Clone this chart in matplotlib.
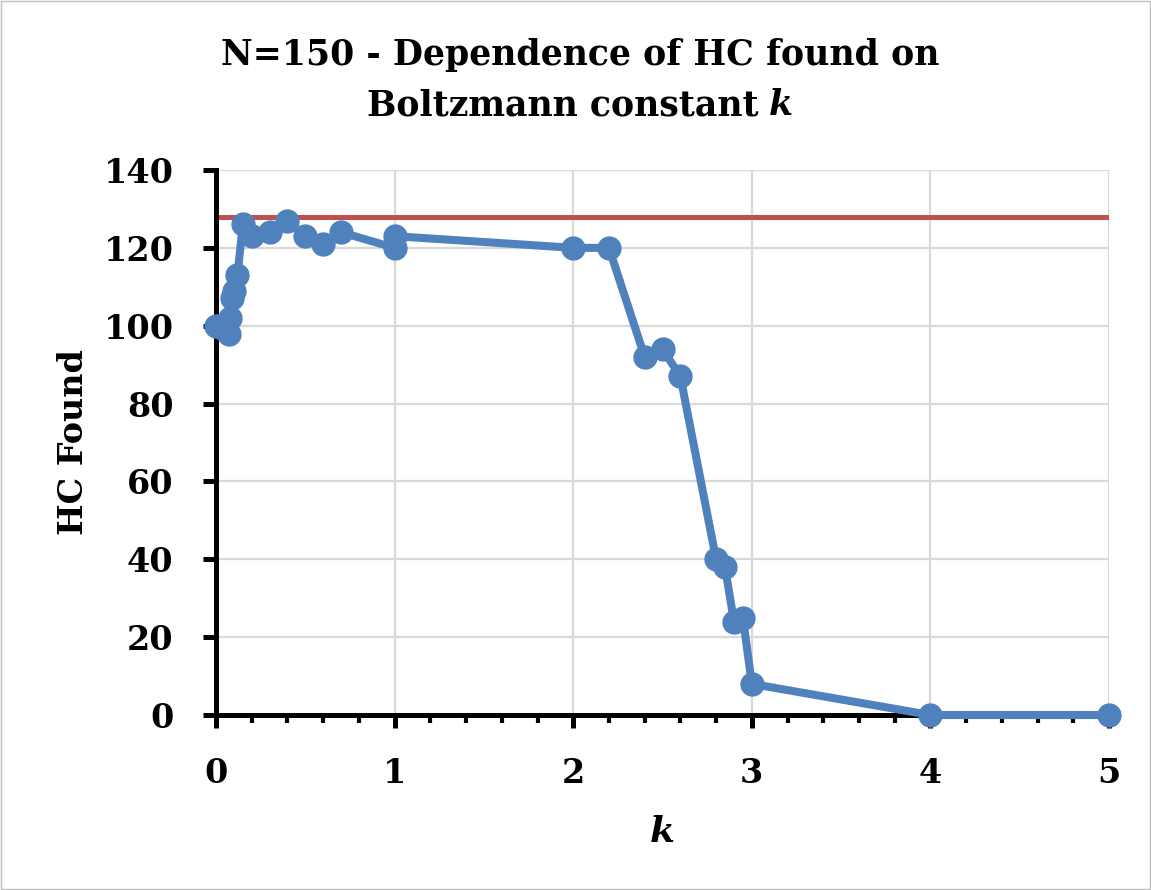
import matplotlib.pyplot as plt
from matplotlib.patches import Rectangle
from matplotlib.ticker import MultipleLocator

# values
k_values = [0, 0.01, 0.05, 0.07, 0.08, 0.09, 0.1, 0.12, 0.15, 0.2, 0.3, 0.4,
            0.5, 0.6, 0.7, 1.0, 1.0, 2.0, 2.2, 2.4, 2.5, 2.6, 2.8, 2.85,
            2.9, 2.95, 3.0, 4.0, 5.0]
hc_found = [100, 100, 99, 98, 102, 107, 109, 113, 126, 123, 124, 127,
            123, 121, 124, 120, 123, 120, 120, 92, 94, 87, 40, 38,
            24, 25, 8, 0, 0]
target_k = [0, 5]
target_hc = [128, 128]

blue = "#4F81BD"
red = "#C0504D"
grid_grey = "#D9D9D9"

plt.rcParams['font.family'] = ['DejaVu Serif']
plt.rcParams['font.weight'] = 'bold'

fig = plt.figure(figsize=(11.51, 8.9), dpi=100)
ax = fig.add_axes([0.1877, 0.1966, 0.9635 - 0.1877, 0.809 - 0.1966])

# chart area border
fig.patches.append(Rectangle((0.001, 0.001), 0.998, 0.998, transform=fig.transFigure,
                             fill=False, edgecolor="#BFBFBF", linewidth=1))

ax.plot(target_k, target_hc, color=red, linewidth=3.6, zorder=2,
        solid_capstyle='butt')
ax.plot(k_values, hc_found, color=blue, linewidth=5.8, marker='o',
        markersize=16.5, zorder=3, clip_on=False)

ax.set_xlim(0, 5)
ax.set_ylim(0, 140)
ax.xaxis.set_major_locator(MultipleLocator(1))
ax.xaxis.set_minor_locator(MultipleLocator(0.2))
ax.yaxis.set_major_locator(MultipleLocator(20))

ax.grid(True, which='major', color=grid_grey, linewidth=1.6, zorder=0)
ax.set_axisbelow(True)

for side in ['top', 'right']:
    ax.spines[side].set_visible(False)
for side in ['left', 'bottom']:
    ax.spines[side].set_linewidth(3.6)

ax.tick_params(axis='both', which='major', direction='out', length=9.5,
               width=3.6, labelsize=24, pad=21)
ax.tick_params(axis='x', which='minor', direction='out', length=6,
               width=3.0)

for lbl in ax.get_xticklabels() + ax.get_yticklabels():
    lbl.set_fontweight('bold')

ax.set_ylabel('HC Found', fontsize=24, fontweight='bold', labelpad=10)
ax.set_xlabel('k', fontsize=26, fontweight='bold', style='italic', labelpad=18)

# title, second line ends with an italic k placed right after the text
fig.text(0.504, 0.938, 'N=150 - Dependence of HC found on', ha='center',
         va='center', fontsize=25, fontweight='bold')
line2 = fig.text(0.0, 0.882, 'Boltzmann constant', ha='left', va='center',
                 fontsize=25, fontweight='bold')
kk = fig.text(0.0, 0.882, 'k', ha='left', va='center', fontsize=25,
              fontweight='bold', style='italic')
renderer = fig.canvas.get_renderer()
w1 = line2.get_window_extent(renderer).width
w2 = kk.get_window_extent(renderer).width
space = 10
total = w1 + space + w2
x0 = 0.504 * fig.bbox.width - total / 2
line2.set_x(x0 / fig.bbox.width)
kk.set_x((x0 + w1 + space) / fig.bbox.width)

plt.savefig('out.png', dpi=100)
plt.close(fig)
